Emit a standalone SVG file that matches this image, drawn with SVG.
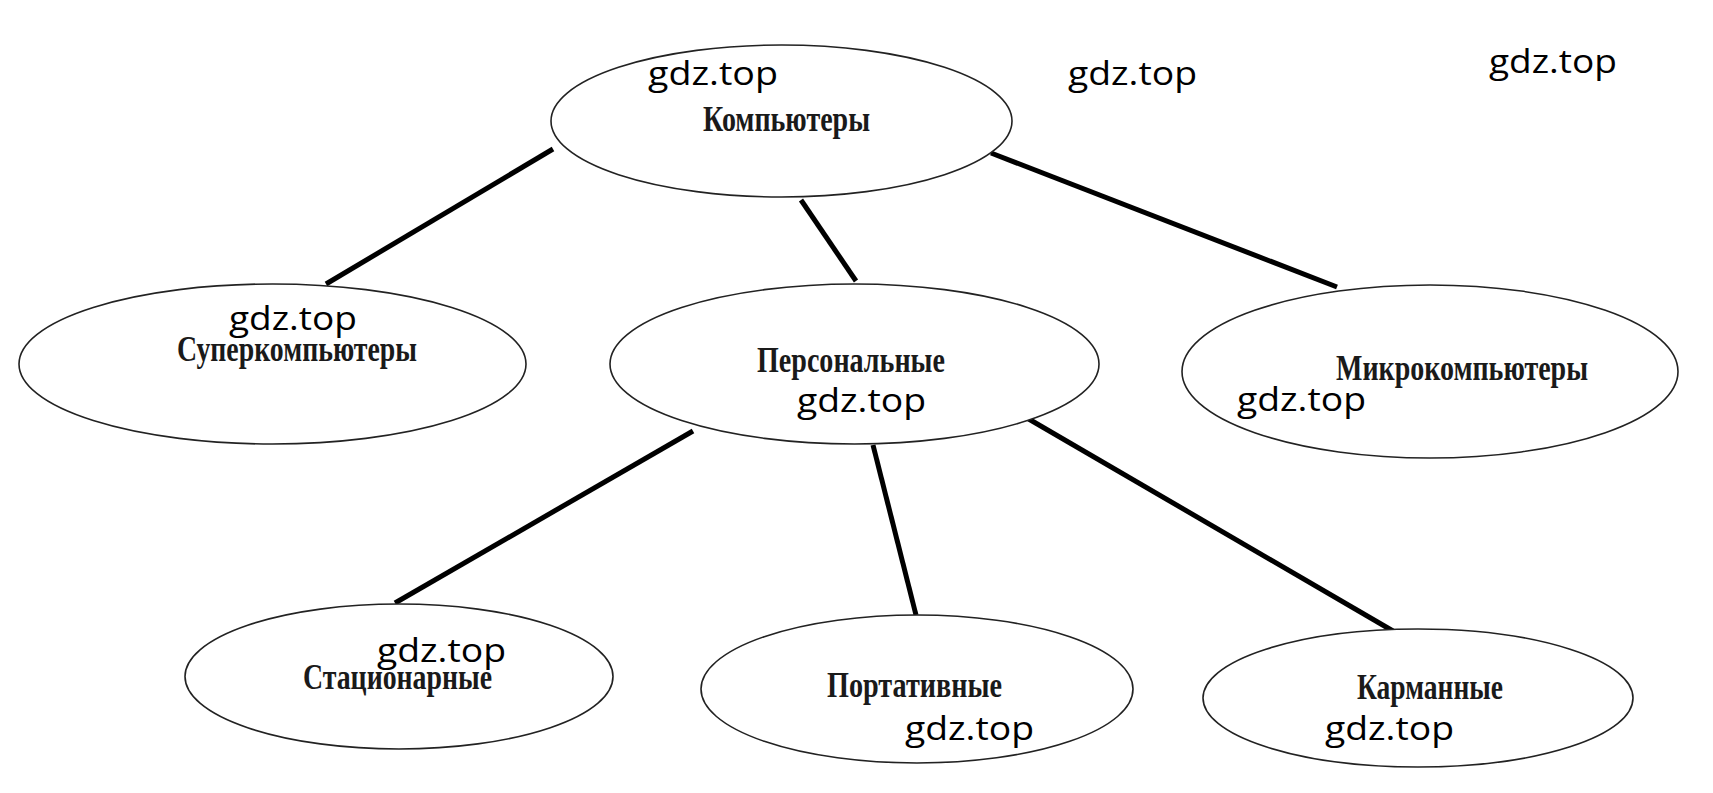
<svg xmlns="http://www.w3.org/2000/svg" width="1713" height="793" viewBox="0 0 1713 793">
<style>
.node ellipse{fill:#fff;stroke:#222;stroke-width:1.6}
.lbl{font-family:"Liberation Serif","Times New Roman",serif;font-weight:bold;font-size:36px;fill:#1a1a1a}
.wm{font-family:"Open Sans","Noto Sans",sans-serif;font-size:33px;fill:#000}
#connectors line{stroke:#000;stroke-width:5;stroke-linecap:butt}
</style>
<rect width="1713" height="793" fill="#fff"/>
<g id="connectors">
<line x1="553" y1="149" x2="326" y2="284"/>
<line x1="801" y1="200" x2="856" y2="281"/>
<line x1="991" y1="153" x2="1337" y2="287"/>
<line x1="693" y1="431" x2="395" y2="603"/>
<line x1="873" y1="445" x2="916" y2="615"/>
<line x1="1027" y1="418" x2="1393" y2="631"/>
</g>
<g id="n-computers" class="node">
<ellipse cx="781.5" cy="121" rx="230.5" ry="76"/>
<text class="lbl" x="703" y="131" textLength="167" lengthAdjust="spacingAndGlyphs">Компьютеры</text>
</g>
<g id="n-super" class="node">
<ellipse cx="272.5" cy="364" rx="253.5" ry="80"/>
<text class="lbl" x="177" y="361" textLength="240" lengthAdjust="spacingAndGlyphs">Суперкомпьютеры</text>
</g>
<g id="n-personal" class="node">
<ellipse cx="854.5" cy="364" rx="244.5" ry="80"/>
<text class="lbl" x="757" y="372" textLength="188" lengthAdjust="spacingAndGlyphs">Персональные</text>
</g>
<g id="n-micro" class="node">
<ellipse cx="1430" cy="371.5" rx="248" ry="86.5"/>
<text class="lbl" x="1336" y="380" textLength="252" lengthAdjust="spacingAndGlyphs">Микрокомпьютеры</text>
</g>
<g id="n-stationary" class="node">
<ellipse cx="399" cy="676.5" rx="214" ry="72.5"/>
<text class="lbl" x="303" y="689" textLength="189" lengthAdjust="spacingAndGlyphs">Стационарные</text>
</g>
<g id="n-portable" class="node">
<ellipse cx="917" cy="689" rx="216" ry="74"/>
<text class="lbl" x="827" y="697" textLength="175" lengthAdjust="spacingAndGlyphs">Портативные</text>
</g>
<g id="n-pocket" class="node">
<ellipse cx="1418" cy="698" rx="215" ry="69"/>
<text class="lbl" x="1357" y="699" textLength="146" lengthAdjust="spacingAndGlyphs">Карманные</text>
</g>
<g id="watermarks">
<text class="wm" x="648" y="85" textLength="130" lengthAdjust="spacingAndGlyphs">gdz.top</text>
<text class="wm" x="1068" y="85" textLength="129" lengthAdjust="spacingAndGlyphs">gdz.top</text>
<text class="wm" x="1489" y="73" textLength="128" lengthAdjust="spacingAndGlyphs">gdz.top</text>
<text class="wm" x="229" y="330" textLength="128" lengthAdjust="spacingAndGlyphs">gdz.top</text>
<text class="wm" x="797" y="412" textLength="129" lengthAdjust="spacingAndGlyphs">gdz.top</text>
<text class="wm" x="1237" y="411" textLength="129" lengthAdjust="spacingAndGlyphs">gdz.top</text>
<text class="wm" x="377" y="662" textLength="129" lengthAdjust="spacingAndGlyphs">gdz.top</text>
<text class="wm" x="905" y="740" textLength="129" lengthAdjust="spacingAndGlyphs">gdz.top</text>
<text class="wm" x="1325" y="740" textLength="129" lengthAdjust="spacingAndGlyphs">gdz.top</text>
</g>
</svg>
